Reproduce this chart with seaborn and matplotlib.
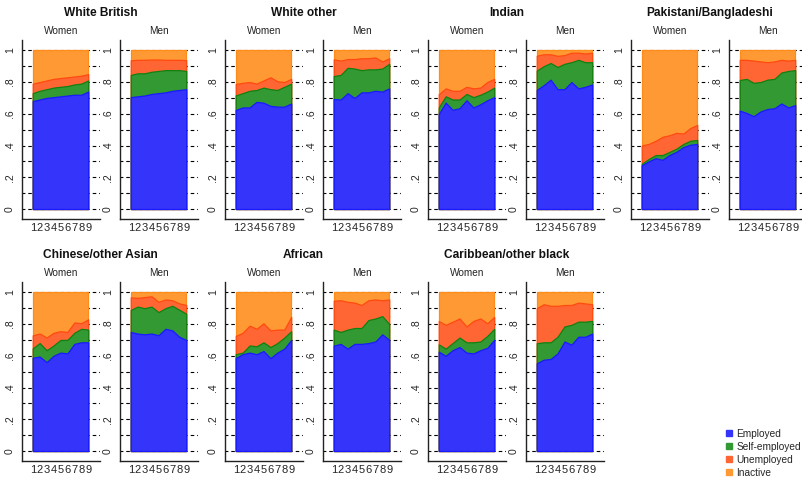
import matplotlib
matplotlib.use("Agg")
import matplotlib.pyplot as plt
import numpy as np
import seaborn as sns
from matplotlib.lines import Line2D

# Shares of working-age population by survey wave (1-9), stacked (cumulative) as in the original
waves = [1, 2, 3, 4, 5, 6, 7, 8, 9]
groups = ['White British', 'White other', 'Indian', 'Pakistani/Bangladeshi',
          'Chinese/other Asian', 'African', 'Caribbean/other black']
status = ['Employed', 'Self-employed', 'Unemployed', 'Inactive']

# cumulative: employed / employed+self-employed / employed+self+unemployed (active)
employed_women = [
    [0.68, 0.69, 0.70, 0.705, 0.71, 0.715, 0.72, 0.72, 0.74],
    [0.624, 0.64, 0.64, 0.675, 0.67, 0.65, 0.645, 0.645, 0.665],
    [0.599, 0.67, 0.625, 0.635, 0.685, 0.64, 0.66, 0.685, 0.705],
    [0.275, 0.30, 0.32, 0.31, 0.34, 0.36, 0.39, 0.405, 0.41],
    [0.588, 0.595, 0.56, 0.60, 0.62, 0.615, 0.675, 0.685, 0.685],
    [0.586, 0.61, 0.62, 0.61, 0.63, 0.585, 0.62, 0.645, 0.70],
    [0.626, 0.60, 0.635, 0.655, 0.62, 0.615, 0.635, 0.65, 0.70],
]
emp_self_women = [
    [0.73, 0.745, 0.755, 0.765, 0.77, 0.775, 0.785, 0.79, 0.81],
    [0.716, 0.73, 0.745, 0.75, 0.765, 0.755, 0.75, 0.77, 0.79],
    [0.64, 0.71, 0.69, 0.69, 0.725, 0.705, 0.72, 0.74, 0.765],
    [0.285, 0.315, 0.34, 0.34, 0.36, 0.38, 0.41, 0.43, 0.435],
    [0.647, 0.68, 0.635, 0.665, 0.70, 0.70, 0.745, 0.77, 0.765],
    [0.61, 0.62, 0.665, 0.66, 0.685, 0.655, 0.68, 0.715, 0.755],
    [0.672, 0.645, 0.68, 0.715, 0.685, 0.685, 0.69, 0.725, 0.77],
]
active_women = [
    [0.79, 0.80, 0.81, 0.82, 0.825, 0.83, 0.835, 0.84, 0.85],
    [0.788, 0.795, 0.80, 0.79, 0.81, 0.83, 0.805, 0.80, 0.82],
    [0.723, 0.76, 0.745, 0.745, 0.77, 0.76, 0.765, 0.80, 0.82],
    [0.40, 0.41, 0.43, 0.455, 0.465, 0.48, 0.475, 0.51, 0.53],
    [0.729, 0.74, 0.715, 0.745, 0.755, 0.75, 0.81, 0.805, 0.83],
    [0.725, 0.745, 0.79, 0.77, 0.805, 0.76, 0.765, 0.765, 0.845],
    [0.819, 0.795, 0.815, 0.835, 0.785, 0.82, 0.835, 0.805, 0.845],
]
employed_men = [
    [0.705, 0.71, 0.715, 0.725, 0.73, 0.735, 0.745, 0.75, 0.755],
    [0.693, 0.69, 0.73, 0.70, 0.735, 0.735, 0.745, 0.74, 0.76],
    [0.75, 0.78, 0.815, 0.755, 0.755, 0.80, 0.76, 0.77, 0.785],
    [0.62, 0.605, 0.585, 0.615, 0.63, 0.635, 0.665, 0.64, 0.655],
    [0.75, 0.74, 0.735, 0.74, 0.73, 0.77, 0.76, 0.72, 0.70],
    [0.664, 0.675, 0.645, 0.675, 0.675, 0.68, 0.69, 0.735, 0.70],
    [0.553, 0.575, 0.58, 0.615, 0.69, 0.67, 0.72, 0.72, 0.74],
]
emp_self_men = [
    [0.845, 0.855, 0.855, 0.865, 0.87, 0.875, 0.875, 0.875, 0.87],
    [0.838, 0.845, 0.89, 0.885, 0.875, 0.88, 0.88, 0.885, 0.915],
    [0.872, 0.90, 0.92, 0.895, 0.915, 0.925, 0.94, 0.925, 0.925],
    [0.813, 0.82, 0.795, 0.80, 0.815, 0.82, 0.86, 0.87, 0.875],
    [0.889, 0.91, 0.90, 0.91, 0.875, 0.90, 0.915, 0.89, 0.865],
    [0.765, 0.75, 0.765, 0.775, 0.775, 0.825, 0.835, 0.85, 0.80],
    [0.679, 0.685, 0.685, 0.72, 0.785, 0.795, 0.815, 0.815, 0.82],
]
active_men = [
    [0.937, 0.94, 0.94, 0.942, 0.942, 0.94, 0.94, 0.94, 0.938],
    [0.943, 0.935, 0.945, 0.945, 0.95, 0.95, 0.955, 0.93, 0.95],
    [0.966, 0.975, 0.975, 0.965, 0.97, 0.985, 0.985, 0.98, 0.985],
    [0.94, 0.94, 0.935, 0.93, 0.925, 0.93, 0.94, 0.935, 0.94],
    [0.968, 0.965, 0.97, 0.975, 0.94, 0.955, 0.95, 0.93, 0.92],
    [0.947, 0.95, 0.94, 0.935, 0.92, 0.95, 0.955, 0.95, 0.955],
    [0.90, 0.925, 0.915, 0.915, 0.92, 0.92, 0.935, 0.93, 0.925],
]
total = [1.0] * 9

fills = ['#3434fa', '#339933', '#ff6633', '#ff9933']
edges = ['#1a1aff', '#128012', '#ff4a10', '#ff8c1a']

sns.set_theme(style='white')
plt.rcParams['font.family'] = ['Liberation Sans', 'DejaVu Sans']

W, H = 803, 478
fig = plt.figure(figsize=(W / 100, H / 100), dpi=100)

row_tops = [40, 282]
panel_h = 179
panel_w = 78
group_lefts = [22, 225, 428, 631]
men_offset = 98


def draw_panel(ax, layers, label):
    # layers from back (inactive, full height) to front (employed)
    for vals, fc, ec in zip(layers, fills[::-1], edges[::-1]):
        ax.fill_between(waves, 0, vals, facecolor=fc, edgecolor=ec, lw=0.9, zorder=2)
    for y in np.arange(0, 1.01, 0.1):
        ax.axhline(y, color='black', lw=0.8, ls=(0.6, (3.2, 2.6)), zorder=1)
    ax.set_xlim(-0.55, 10.7)
    ax.set_ylim(-0.063, 1.065)
    ax.set_xticks(waves)
    ax.set_xticklabels([str(w) for w in waves], fontsize=8.0)
    ax.set_yticks(np.arange(0, 1.01, 0.2))
    ax.set_yticklabels(['0', '.2', '.4', '.6', '.8', '1'], fontsize=7.5, rotation=90, va='center')
    ax.tick_params(axis='y', length=0, pad=5)
    ax.tick_params(axis='x', length=0, pad=3)
    for s in ['top', 'right']:
        ax.spines[s].set_visible(False)
    for s in ['left', 'bottom']:
        ax.spines[s].set_color('#222222')
        ax.spines[s].set_linewidth(1.0)
    ax.set_title(label, fontsize=7.2, pad=4, color='#222222')


for gi, name in enumerate(groups):
    row = gi // 4
    col = gi % 4
    top = row_tops[row]
    left = group_lefts[col]
    bottom_frac = (H - top - panel_h) / H
    women = [total, active_women[gi], emp_self_women[gi], employed_women[gi]]
    men = [total, active_men[gi], emp_self_men[gi], employed_men[gi]]
    for k, (layers, lab) in enumerate([(women, 'Women'), (men, 'Men')]):
        ax = fig.add_axes([(left + k * men_offset) / W, bottom_frac, panel_w / W, panel_h / H])
        draw_panel(ax, layers, lab)
    cx = (left + men_offset + panel_w / 2 + left) / 2 + 10
    fig.text(cx / W, 1 - (top - 27) / H, name, ha='center', va='center',
             fontsize=8.6, fontweight='bold', color='#111111')

handles = [Line2D([], [], marker='s', ls='', markersize=4.5, markerfacecolor=f, markeredgecolor=f)
           for f in fills]
fig.legend(handles, status, loc='upper left', bbox_to_anchor=(725 / W, 1 - 429 / H),
           frameon=False, fontsize=7.3, handlelength=0.8, handletextpad=0.3,
           labelspacing=0.28, borderpad=0, borderaxespad=0)

fig.savefig('out.png', dpi=100)
